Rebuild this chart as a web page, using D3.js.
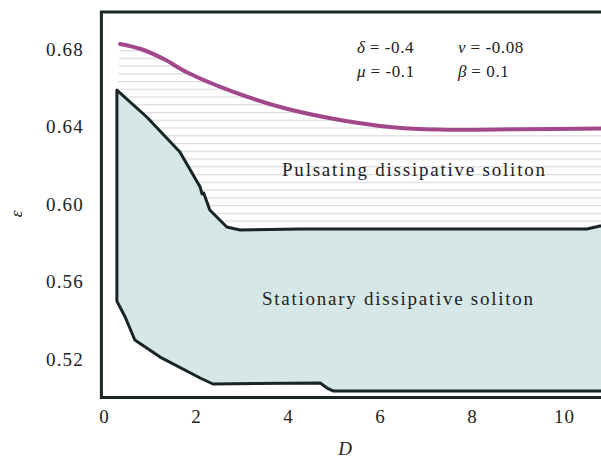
<!DOCTYPE html>
<html>
<head>
<meta charset="utf-8">
<script src="https://cdn.jsdelivr.net/npm/d3@7"></script>
<style>
  html, body { margin: 0; padding: 0; background: #fff; }
  svg { display: block; }
  text { font-family: "Liberation Serif", "Times New Roman", Times, Tinos, "DejaVu Serif", "Noto Serif", "Nimbus Roman", FreeSerif, serif; fill: #222; }
</style>
</head>
<body>
<svg id="chart" width="601" height="458"></svg>
<script>
// ---- data ----
const xTicks = [0, 2, 4, 6, 8, 10];
const yTicks = [0.52, 0.56, 0.60, 0.64, 0.68];
const yTickLabels = ["0.52", "0.56", "0.60", "0.64", "0.68"];

// upper magenta boundary (pulsating soliton existence limit)
const pulsatingUpper = [
  [0.35, 0.6826], [0.80, 0.6800], [1.30, 0.6748], [1.80, 0.6680], [2.80, 0.6580],
  [3.89, 0.6497], [5.13, 0.6434], [6.22, 0.6398], [7.30, 0.6384], [9.04, 0.6386], [10.9, 0.6390]
];
// top boundary of stationary region
const stationaryTop = [
  [0.28, 0.6588], [0.93, 0.6449], [1.65, 0.6268], [2.09, 0.6088], [2.13, 0.6052],
  [2.17, 0.6056], [2.30, 0.5969], [2.67, 0.5881], [2.96, 0.5866], [4.26, 0.5871],
  [10.5, 0.5871], [10.78, 0.5886], [10.9, 0.5890]
];
// bottom boundary of stationary region
const stationaryBottom = [
  [0.28, 0.5499], [0.46, 0.5417], [0.67, 0.5298], [1.22, 0.5210], [2.09, 0.5102],
  [2.37, 0.5071], [4.70, 0.5076], [4.85, 0.5050], [4.98, 0.5035], [10.9, 0.5035]
];
const params = [["δ", " = -0.4"], ["ν", " = -0.08"], ["μ", " = -0.1"], ["β", " = 0.1"]];

// ---- scales ----
const svg = d3.select("#chart");
const x = d3.scaleLinear().domain([0, 10]).range([104, 564]);
const y = d3.scaleLinear().domain([0.52, 0.68]).range([359, 49]);

const frameLeft = x(-0.057), frameTop = y(0.6991), frameBottom = y(0.5001), frameRight = 605;

// hatch pattern
const defs = svg.append("defs");
const pat = defs.append("pattern").attr("id", "hatch")
  .attr("patternUnits", "userSpaceOnUse").attr("width", 20).attr("height", y(0.676) - y(0.68))
  .attr("y", y(0.6755));
pat.append("line").attr("x1", 0).attr("x2", 20).attr("y1", 0.6).attr("y2", 0.6)
  .attr("stroke", "#dcdcdc").attr("stroke-width", 1.2);

const line = d3.line().x(d => x(d[0])).y(d => y(d[1]));
const smooth = d3.line().x(d => x(d[0])).y(d => y(d[1])).curve(d3.curveCatmullRom.alpha(0.5));

// pulsating region (hatched): magenta curve then back along stationary top
const pulsRegion = pulsatingUpper.concat(stationaryTop.slice().reverse());
svg.append("path").attr("d", line(pulsRegion) + "Z")
  .attr("fill", "url(#hatch)").attr("stroke", "none");

// stationary region
const statRegion = stationaryTop.concat(stationaryBottom.slice().reverse());
svg.append("path").attr("d", line(statRegion) + "Z")
  .attr("fill", "#d6e7e7").attr("stroke", "#182426").attr("stroke-width", 3)
  .attr("stroke-linejoin", "round");

// magenta curve
svg.append("path").attr("d", smooth(pulsatingUpper))
  .attr("fill", "none").attr("stroke", "#9c3d84").attr("stroke-width", 4)
  .attr("stroke-linecap", "round").attr("opacity", 0.95);

// frame
svg.append("path")
  .attr("d", `M${frameRight},${frameTop}H${frameLeft}V${frameBottom}H${frameRight}`)
  .attr("fill", "none").attr("stroke", "#1a2628").attr("stroke-width", 3);

// axes (labels only)
const xAxis = d3.axisBottom(x).tickValues(xTicks).tickSize(0).tickPadding(0).tickFormat(d3.format("d"));
const gx = svg.append("g").attr("transform", `translate(0,${frameBottom + 12})`).call(xAxis);
gx.select(".domain").remove();
gx.selectAll("text").attr("font-size", 19)
  .attr("fill", "#222").attr("letter-spacing", 1).attr("dy", "0.71em");

const yAxis = d3.axisLeft(y).tickValues(yTicks).tickSize(0).tickPadding(0).tickFormat((d, i) => yTickLabels[i]);
const gy = svg.append("g").attr("transform", `translate(${84},0)`).call(yAxis);
gy.select(".domain").remove();
gy.selectAll("text").attr("font-size", 19)
  .attr("fill", "#222").attr("letter-spacing", 1.2);

// axis titles
svg.append("text").attr("x", 345).attr("y", 455).attr("text-anchor", "middle")
  .attr("font-size", 19).attr("font-style", "italic").text("D");
svg.append("text").attr("transform", "translate(22,214) rotate(-90)").attr("text-anchor", "middle")
  .attr("font-size", 17).attr("font-style", "italic").text("ε");

// parameters
const px = [357, 458, 357, 458], py = [53, 53, 77, 77];
params.forEach((p, i) => {
  const t = svg.append("text").attr("x", px[i]).attr("y", py[i]).attr("font-size", 17);
  t.append("tspan").attr("font-style", "italic").text(p[0]);
  t.append("tspan").attr("letter-spacing", 0.6).text(p[1]);
});

// region labels
svg.append("text").attr("x", 282).attr("y", 176).attr("font-size", 19)
  .attr("textLength", 263).attr("lengthAdjust", "spacing").text("Pulsating dissipative soliton");
svg.append("text").attr("x", 262).attr("y", 305).attr("font-size", 19)
  .attr("textLength", 271).attr("lengthAdjust", "spacing").text("Stationary dissipative soliton");
</script>
</body>
</html>
